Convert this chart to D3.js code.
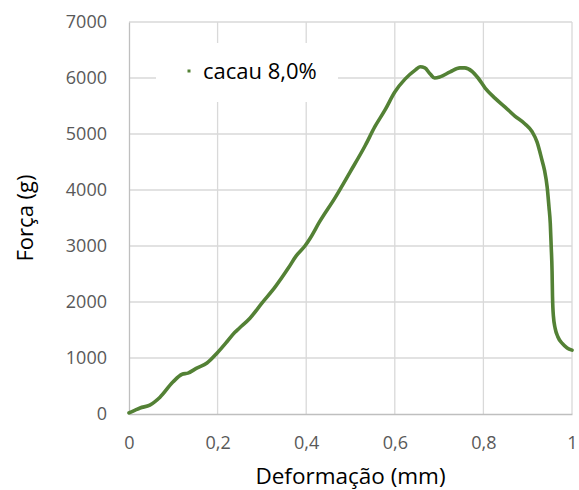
<!DOCTYPE html>
<html><head><meta charset="utf-8">
<script src="https://cdn.jsdelivr.net/npm/d3@7"></script>
<style>body{margin:0;background:#fff}</style>
</head><body>
<svg id="chart" width="579" height="490"></svg>
<script>
const seriesName = "cacau 8,0%";
const xTicks = [0, 0.2, 0.4, 0.6, 0.8, 1];
const yTicks = [0, 1000, 2000, 3000, 4000, 5000, 6000, 7000];
const deformacao = [0, 0.014, 0.025, 0.047, 0.07, 0.099, 0.12, 0.133, 0.153, 0.176, 0.199, 0.221, 0.239, 0.25, 0.273, 0.3, 0.33, 0.36, 0.377, 0.397, 0.409, 0.43, 0.465, 0.499, 0.533, 0.555, 0.578, 0.6, 0.623, 0.646, 0.657, 0.668, 0.68, 0.69, 0.702, 0.725, 0.747, 0.758, 0.774, 0.788, 0.804, 0.826, 0.849, 0.871, 0.894, 0.91, 0.921, 0.932, 0.938, 0.944, 0.948, 0.951, 0.953, 0.955, 0.956, 0.958, 0.962, 0.968, 0.978, 0.989, 1.0];
const forca = [20, 70, 107, 160, 300, 570, 710, 730, 820, 910, 1090, 1290, 1460, 1540, 1710, 1980, 2270, 2610, 2820, 3000, 3140, 3430, 3860, 4320, 4790, 5130, 5430, 5750, 5980, 6140, 6200, 6180, 6070, 6000, 6020, 6110, 6180, 6180, 6120, 6000, 5820, 5640, 5480, 5320, 5180, 5040, 4860, 4540, 4350, 4050, 3700, 3400, 3000, 2550, 2100, 1750, 1530, 1380, 1260, 1180, 1140];

const svg = d3.select("#chart");
const L = 129, R = 572, T = 22, B = 414;
const x = d3.scaleLinear().domain([0, 1]).range([L, R]);
const y = d3.scaleLinear().domain([0, 7000]).range([B, T]);
const font = "'Open Sans', sans-serif";

// gridlines
svg.append("g").selectAll("line").data(yTicks.slice(1)).join("line")
  .attr("x1", L).attr("x2", R).attr("y1", d => y(d)).attr("y2", d => y(d))
  .attr("stroke", "#d9d9d9").attr("stroke-width", 1.3);
svg.append("g").selectAll("line").data(xTicks.slice(1)).join("line")
  .attr("x1", d => x(d)).attr("x2", d => x(d)).attr("y1", T).attr("y2", B)
  .attr("stroke", "#d9d9d9").attr("stroke-width", 1.3);

// axes
const yAxis = svg.append("g").attr("transform", `translate(${L},0)`)
  .call(d3.axisLeft(y).tickValues(yTicks).tickSize(0).tickPadding(22).tickFormat(d3.format("d")));
const xAxis = svg.append("g").attr("transform", `translate(0,${B})`)
  .call(d3.axisBottom(x).tickValues(xTicks).tickSize(0).tickPadding(22).tickFormat(d => String(d).replace(".", ",")));
[yAxis, xAxis].forEach(g => {
  g.select(".domain").attr("stroke", "#bfbfbf").attr("stroke-width", 1.3);
  g.selectAll("text").attr("font-family", font).attr("font-size", 18).attr("fill", "#595959");
});

// line
const line = d3.line().x((d, i) => x(deformacao[i])).y(d => y(d)).curve(d3.curveMonotoneX);
svg.append("path").datum(forca).attr("d", line)
  .attr("fill", "none").attr("stroke", "#538135").attr("stroke-width", 3.6)
  .attr("stroke-linejoin", "round").attr("stroke-linecap", "round");

// legend
const lg = svg.append("g");
lg.append("rect").attr("x", 156).attr("y", 43).attr("width", 182).attr("height", 59).attr("fill", "#fff");
lg.append("rect").attr("x", 187.5).attr("y", 69.5).attr("width", 3).attr("height", 3).attr("fill", "#538135");
lg.append("text").attr("x", 203).attr("y", 79).text(seriesName)
  .attr("font-family", font).attr("font-size", 22).attr("fill", "#000");

// titles
svg.append("text").attr("x", (L + R) / 2).attr("y", 484).attr("text-anchor", "middle")
  .attr("font-family", font).attr("font-size", 22.5).attr("fill", "#000").text("Deformação (mm)");
svg.append("text").attr("transform", "translate(33,218) rotate(-90)").attr("text-anchor", "middle")
  .attr("font-family", font).attr("font-size", 22).attr("fill", "#000").text("Força (g)");
</script>
</body></html>
